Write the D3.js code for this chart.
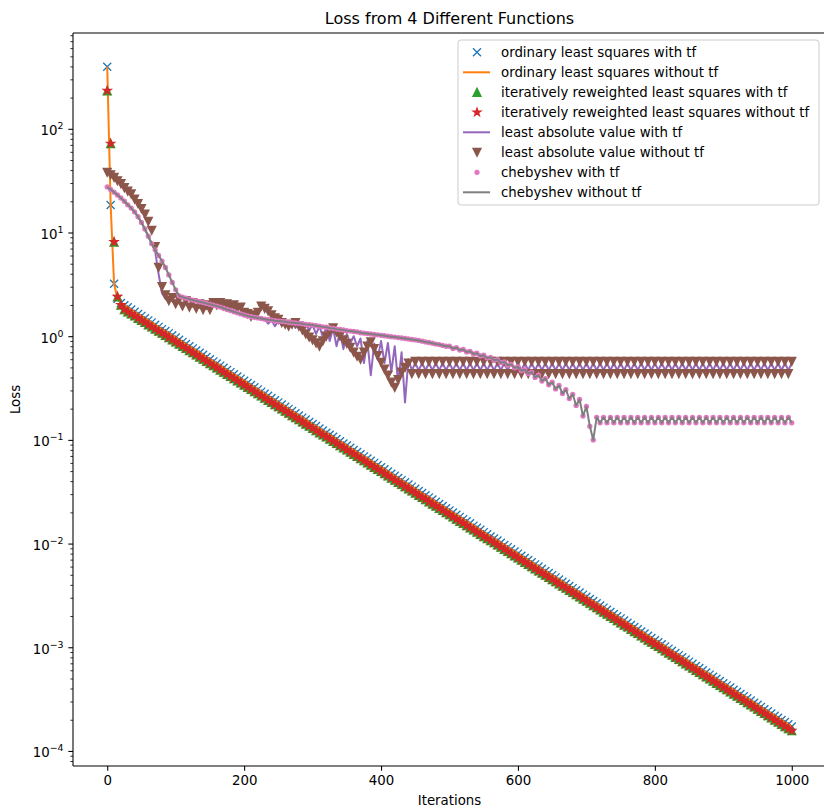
<!DOCTYPE html>
<html><head><meta charset="utf-8">
<script src="https://cdn.jsdelivr.net/npm/d3@7"></script>
<style>
body{margin:0;background:#fff}
svg{display:block}
text{font-family:"DejaVu Sans",sans-serif;fill:#000}
</style>
</head><body>
<svg id="chart" width="824" height="808"></svg>
<script>
// ---------------- DATA (loss logged every 5 iterations) ----------------
const iterations = d3.range(0, 1001, 5);

const olsWithTf = [397, 18.4, 3.2, 2.3,
 2.09,1.99,1.90,1.81,1.72,1.64,1.57,1.49,1.42,1.36,1.29,1.23,1.17,1.12,1.07,1.02,0.970,0.924,0.881,0.840,0.800,0.763,0.727,0.693,0.661,0.630,0.600,0.572,0.545,0.520,0.496,0.472,0.450,0.429,0.409,0.390,0.372,0.354,0.338,0.322,0.307,0.292,0.279,0.266,0.253,0.241,0.230,0.219,
 0.209,0.199,0.190,0.181,0.172,0.164,0.157,0.149,0.142,0.136,0.129,0.123,0.117,0.112,0.107,0.102,0.0970,0.0924,0.0881,0.0840,0.0800,0.0763,0.0727,0.0693,0.0661,0.0630,0.0600,0.0572,0.0545,0.0520,0.0496,0.0472,0.0450,0.0429,0.0409,0.0390,0.0372,0.0354,0.0338,0.0322,0.0307,0.0292,0.0279,0.0266,0.0253,0.0241,0.0230,0.0219,
 0.0209,0.0199,0.0190,0.0181,0.0172,0.0164,0.0157,0.0149,0.0142,0.0136,0.0129,0.0123,0.0117,0.0112,0.0107,0.0102,0.00970,0.00924,0.00881,0.00840,0.00800,0.00763,0.00727,0.00693,0.00661,0.00630,0.00600,0.00572,0.00545,0.00520,0.00496,0.00472,0.00450,0.00429,0.00409,0.00390,0.00372,0.00354,0.00338,0.00322,0.00307,0.00292,0.00279,0.00266,0.00253,0.00241,0.00230,0.00219,
 2.09e-3,1.99e-3,1.90e-3,1.81e-3,1.72e-3,1.64e-3,1.57e-3,1.49e-3,1.42e-3,1.36e-3,1.29e-3,1.23e-3,1.17e-3,1.12e-3,1.07e-3,1.02e-3,9.70e-4,9.24e-4,8.81e-4,8.40e-4,8.00e-4,7.63e-4,7.27e-4,6.93e-4,6.61e-4,6.30e-4,6.00e-4,5.72e-4,5.45e-4,5.20e-4,4.96e-4,4.72e-4,4.50e-4,4.29e-4,4.09e-4,3.90e-4,3.72e-4,3.54e-4,3.38e-4,3.22e-4,3.07e-4,2.92e-4,2.79e-4,2.66e-4,2.53e-4,2.41e-4,2.30e-4,2.19e-4,
 2.09e-4,1.99e-4,1.90e-4,1.81e-4,1.72e-4];

// the run without tf reproduces the same loss curve
const olsWithoutTf = olsWithTf;

const irlsWithTf = [233, 72, 8.1, 2.4, 2.0,
 1.81,1.72,1.64,1.57,1.49,1.42,1.36,1.29,1.23,1.17,1.12,1.07,1.02,0.970,0.924,0.881,0.840,0.800,0.763,0.727,0.693,0.661,0.630,0.600,0.572,0.545,0.520,0.496,0.472,0.450,0.429,0.409,0.390,0.372,0.354,0.338,0.322,0.307,0.292,0.279,0.266,0.253,0.241,0.230,0.219,
 0.209,0.199,0.190,0.181,0.172,0.164,0.157,0.149,0.142,0.136,0.129,0.123,0.117,0.112,0.107,0.102,0.0970,0.0924,0.0881,0.0840,0.0800,0.0763,0.0727,0.0693,0.0661,0.0630,0.0600,0.0572,0.0545,0.0520,0.0496,0.0472,0.0450,0.0429,0.0409,0.0390,0.0372,0.0354,0.0338,0.0322,0.0307,0.0292,0.0279,0.0266,0.0253,0.0241,0.0230,0.0219,
 0.0209,0.0199,0.0190,0.0181,0.0172,0.0164,0.0157,0.0149,0.0142,0.0136,0.0129,0.0123,0.0117,0.0112,0.0107,0.0102,0.00970,0.00924,0.00881,0.00840,0.00800,0.00763,0.00727,0.00693,0.00661,0.00630,0.00600,0.00572,0.00545,0.00520,0.00496,0.00472,0.00450,0.00429,0.00409,0.00390,0.00372,0.00354,0.00338,0.00322,0.00307,0.00292,0.00279,0.00266,0.00253,0.00241,0.00230,0.00219,
 2.09e-3,1.99e-3,1.90e-3,1.81e-3,1.72e-3,1.64e-3,1.57e-3,1.49e-3,1.42e-3,1.36e-3,1.29e-3,1.23e-3,1.17e-3,1.12e-3,1.07e-3,1.02e-3,9.70e-4,9.24e-4,8.81e-4,8.40e-4,8.00e-4,7.63e-4,7.27e-4,6.93e-4,6.61e-4,6.30e-4,6.00e-4,5.72e-4,5.45e-4,5.20e-4,4.96e-4,4.72e-4,4.50e-4,4.29e-4,4.09e-4,3.90e-4,3.72e-4,3.54e-4,3.38e-4,3.22e-4,3.07e-4,2.92e-4,2.79e-4,2.66e-4,2.53e-4,2.41e-4,2.30e-4,2.19e-4,
 2.09e-4,1.99e-4,1.90e-4,1.81e-4,1.72e-4,1.64e-4,1.57e-4];

const irlsWithoutTf = irlsWithTf;

const lavWithTf = [27.5,26,24.5,23,21.5,20,18.5,17.2,15.8,14.2,12.5,10.8,9.2,7.8,
 6.6,4.0,2.6,2.3,2.15,2.25,2.1,2.4,2.38,
 2.33,2.28,2.23,2.19,2.15,2.11,2.07,2.03,1.99,1.95,1.91,1.86,1.81,1.77,1.72,1.68,1.64,1.60,1.57,1.54,1.52,1.50,1.48,
 1.46,1.32,1.43,1.25,1.40,1.28,1.38,1.22,1.35,1.2,1.33,1.25,1.30,1.15,1.28,1.05,1.25,0.98,1.22,0.9,1.19,0.8,1.1,0.75,1.05,0.85,1.0,0.8,0.95,0.55,0.9,0.42,0.85,0.6,0.9,0.55,0.86,0.45,0.8,0.35,0.7,0.23,0.6,
 0.47,0.55,0.47,0.55,0.47,0.55,0.47,0.55,0.47,0.55,0.47,0.55,0.47,0.55,0.47,0.55,
 0.47,0.55,0.47,0.55,0.47,0.55,0.47,0.55,0.47,0.55,0.47,0.55,0.47,0.55,0.47,0.55,
 0.47,0.55,0.47,0.55,0.47,0.55,0.47,0.55,0.47,0.55,0.47,0.55,0.47,0.55,0.47,0.55,
 0.47,0.55,0.47,0.55,0.47,0.55,0.47,0.55,0.47,0.55,0.47,0.55,0.47,0.55,0.47,0.55,
 0.47,0.55,0.47,0.55,0.47,0.55,0.47,0.55,0.47,0.55,0.47,0.55,0.47,0.55,0.47,0.55,
 0.47,0.55,0.47,0.55,0.47,0.55,0.47,0.55,0.47,0.55,0.47,0.55,0.47,0.55,0.47,0.55,
 0.47,0.55,0.47,0.55,0.47,0.55,0.47,0.55,0.47,0.55,0.47,0.55,0.47,0.55,0.47,0.55];

const lavWithoutTf = [38,36,34,31.5,29.5,27,25,23.5,21,19,17,15,12.8,10.5,
 7.3,4.6,3.0,2.5,2.2,2.35,2.05,2.25,1.95,2.2,1.9,2.1,1.85,2.05,1.8,2.0,1.8,2.1,2.0,2.1,1.95,2.05,1.9,2.0,1.85,1.9,
 1.7,1.65,1.55,1.6,1.7,1.95,1.85,1.75,1.6,1.5,1.45,1.35,1.3,1.25,1.3,1.35,1.25,1.15,1.05,0.98,0.92,0.86,0.8,0.9,
 1.0,1.1,1.2,1.1,1.0,0.92,0.85,0.78,0.7,0.64,0.6,0.7,0.8,0.88,0.76,0.65,0.56,0.48,0.42,0.36,0.32,0.38,0.45,0.5,0.55,
 0.435,0.57,0.435,0.57,0.435,0.57,0.435,0.57,0.435,0.57,0.435,0.57,0.435,0.57,0.435,0.57,
 0.435,0.57,0.435,0.57,0.435,0.57,0.435,0.57,0.435,0.57,0.435,0.57,0.435,0.57,0.435,0.57,
 0.435,0.57,0.435,0.57,0.435,0.57,0.435,0.57,0.435,0.57,0.435,0.57,0.435,0.57,0.435,0.57,
 0.435,0.57,0.435,0.57,0.435,0.57,0.435,0.57,0.435,0.57,0.435,0.57,0.435,0.57,0.435,0.57,
 0.435,0.57,0.435,0.57,0.435,0.57,0.435,0.57,0.435,0.57,0.435,0.57,0.435,0.57,0.435,0.57,
 0.435,0.57,0.435,0.57,0.435,0.57,0.435,0.57,0.435,0.57,0.435,0.57,0.435,0.57,0.435,0.57,
 0.435,0.57,0.435,0.57,0.435,0.57,0.435,0.57,0.435,0.57,0.435,0.57,0.435,0.57,0.435,0.57];

const chebyshevWithTf = [27.5,26,24.5,23,21.5,20,18.5,17.2,15.8,14.2,12.5,10.8,9.2,7.8,6.8,6.0,5.3,4.6,3.9,3.3,2.8,2.45,2.38,
 2.33,2.28,2.23,2.19,2.15,2.11,2.07,2.03,1.99,1.95,1.91,1.86,1.81,1.77,1.72,1.68,1.64,1.60,1.57,1.54,1.52,1.50,1.48,
 1.46,1.44,1.43,1.41,1.40,1.39,1.38,1.36,1.35,1.34,1.33,1.32,1.30,1.29,1.28,1.26,1.25,1.23,1.22,1.20,1.19,1.17,1.16,1.15,
 1.13,1.12,1.11,1.10,1.08,1.07,1.06,1.05,1.04,1.03,1.02,1.01,1.00,0.99,0.98,0.97,0.96,0.95,0.94,0.93,0.92,0.91,0.895,0.88,
 0.87,0.855,0.84,0.83,0.815,0.80,
 0.80,0.76,0.775,0.735,0.745,0.705,0.715,0.675,0.685,0.645,0.655,0.615,0.625,0.585,0.595,0.555,0.565,0.525,0.535,0.495,0.505,
 0.465,0.475,0.435,0.45,0.40,0.42,0.37,0.39,0.34,0.36,0.31,0.335,0.28,0.305,0.25,0.275,0.215,0.245,0.17,0.21,0.135,0.10,
 0.165,0.146,0.165,0.146,0.165,0.146,0.165,0.146,0.165,0.146,0.165,0.146,0.165,0.146,0.165,0.146,
 0.165,0.146,0.165,0.146,0.165,0.146,0.165,0.146,0.165,0.146,0.165,0.146,0.165,0.146,0.165,0.146,
 0.165,0.146,0.165,0.146,0.165,0.146,0.165,0.146,0.165,0.146,0.165,0.146,0.165,0.146,0.165,0.146,
 0.165,0.146,0.165,0.146,0.165,0.146,0.165,0.146,0.165,0.146];

const chebyshevWithoutTf = chebyshevWithTf;

const seriesLabels = [
  "ordinary least squares with tf",
  "ordinary least squares without tf",
  "iteratively reweighted least squares with tf",
  "iteratively reweighted least squares without tf",
  "least absolute value with tf",
  "least absolute value without tf",
  "chebyshev with tf",
  "chebyshev without tf"
];
const xTickValues = [0, 200, 400, 600, 800, 1000];
const yMajorTicks = [1e-4, 1e-3, 1e-2, 1e-1, 1, 10, 100];

// ---------------- STYLE ----------------
const seriesValues = [olsWithTf, olsWithoutTf, irlsWithTf, irlsWithoutTf, lavWithTf, lavWithoutTf, chebyshevWithTf, chebyshevWithoutTf];
seriesValues.forEach((s, k) => { if (s.length !== iterations.length) throw new Error("series " + k + " length " + s.length); });

const colors = ["#1f77b4", "#ff7f0e", "#2ca02c", "#d62728", "#9467bd", "#8c564b", "#e377c2", "#7f7f7f"];
const kinds = ["x", "line", "tri-up", "star", "line", "tri-down", "point", "line"];
const MS = 4; // half marker size in px
function starPath(R) {
  const r = R * 0.381966, p = [];
  for (let k = 0; k < 10; k++) {
    const a = -Math.PI / 2 + k * Math.PI / 5, rr = k % 2 ? r : R;
    p.push((rr * Math.cos(a)).toFixed(3) + "," + (rr * Math.sin(a)).toFixed(3));
  }
  return "M" + p.join("L") + "Z";
}
const markerPaths = {
  "x": `M${-MS},${-MS}L${MS},${MS}M${-MS},${MS}L${MS},${-MS}`,
  "tri-up": `M0,${-MS}L${-MS},${MS}L${MS},${MS}Z`,
  "tri-down": `M0,${MS}L${-MS},${-MS}L${MS},${-MS}Z`,
  "star": starPath(MS),
  "point": d3.symbol(d3.symbolCircle, Math.PI * 2 * 2)()
};

const L = 73, R = 826, T = 33, B = 766;
const svg = d3.select("#chart");
const x = d3.scaleLinear().domain([-50, 1050]).range([L, R]);
const y = d3.scaleLog().domain([7.16e-5, 839.5]).range([B, T]);

// ---------------- SERIES ----------------
const plot = svg.append("g");
seriesValues.forEach((vals, k) => {
  const kind = kinds[k], c = colors[k];
  if (kind === "line") {
    const line = d3.line().x((d, i) => x(iterations[i])).y(d => y(d));
    plot.append("path").attr("d", line(vals)).attr("fill", "none")
      .attr("stroke", c).attr("stroke-width", 2).attr("stroke-linejoin", "round");
  } else {
    const g = plot.append("g");
    g.selectAll("path").data(vals).join("path")
      .attr("transform", (d, i) => `translate(${x(iterations[i])},${y(d)})`)
      .attr("d", markerPaths[kind])
      .attr("fill", kind === "x" ? "none" : c)
      .attr("stroke", c).attr("stroke-width", 1.33);
  }
});

// ---------------- AXES ----------------
const ax = svg.append("g");
ax.append("g").attr("transform", `translate(0,${B})`)
  .call(d3.axisBottom(x).tickValues(xTickValues).tickSize(4.67).tickPadding(4.67).tickFormat(d3.format("d")))
  .call(g => g.select(".domain").remove())
  .call(g => g.selectAll("line").attr("stroke", "#000").attr("stroke-width", 1.07))
  .call(g => g.selectAll("text").attr("font-size", 13.33).attr("font-family", "DejaVu Sans").attr("fill", "#000"));

const yMinor = y.ticks().filter(v => Math.abs(Math.log10(v) - Math.round(Math.log10(v))) > 1e-6);
ax.append("g").attr("transform", `translate(${L},0)`)
  .call(d3.axisLeft(y).tickValues(yMinor).tickSize(2.67).tickFormat(""))
  .call(g => g.select(".domain").remove())
  .call(g => g.selectAll("line").attr("stroke", "#000").attr("stroke-width", 0.8));
ax.append("g").attr("transform", `translate(${L},0)`)
  .call(d3.axisLeft(y).tickValues(yMajorTicks).tickSize(4.67).tickFormat(""))
  .call(g => g.select(".domain").remove())
  .call(g => g.selectAll("line").attr("stroke", "#000").attr("stroke-width", 1.07));

yMajorTicks.forEach(v => {
  const e = Math.round(Math.log10(v));
  const t = ax.append("text").attr("x", L - 9.5).attr("y", y(v) + 6.5)
    .attr("text-anchor", "end").attr("font-size", 13.33);
  t.append("tspan").text("10");
  t.append("tspan").attr("dy", -6).attr("font-size", 9.4).text(e < 0 ? "\u2212" + (-e) : String(e));
});

// spines
const sp = svg.append("g").attr("stroke", "#000").attr("stroke-width", 1.07).attr("fill", "none");
sp.append("line").attr("x1", L).attr("x2", L).attr("y1", T).attr("y2", B);
sp.append("line").attr("x1", L).attr("x2", R).attr("y1", B).attr("y2", B);
sp.append("line").attr("x1", L).attr("x2", R).attr("y1", T).attr("y2", T);
sp.append("line").attr("x1", R).attr("x2", R).attr("y1", T).attr("y2", B);

// labels
svg.append("text").attr("x", (L + R) / 2).attr("y", 23.5).attr("text-anchor", "middle")
  .attr("font-size", 16).text("Loss from 4 Different Functions");
svg.append("text").attr("x", (L + R) / 2).attr("y", 805).attr("text-anchor", "middle")
  .attr("font-size", 13.33).text("Iterations");
svg.append("text").attr("transform", `translate(20,${(T + B) / 2}) rotate(-90)`).attr("text-anchor", "middle")
  .attr("font-size", 13.33).text("Loss");

// ---------------- LEGEND ----------------
const lg = svg.append("g");
lg.append("rect").attr("x", 458).attr("y", 40).attr("width", 361).attr("height", 165).attr("rx", 3)
  .attr("fill", "#fff").attr("fill-opacity", 0.8).attr("stroke", "#cccccc").attr("stroke-width", 1);
seriesLabels.forEach((lab, k) => {
  const cy = 52.3 + k * 20;
  const kind = kinds[k], c = colors[k];
  if (kind === "line") {
    lg.append("line").attr("x1", 463).attr("x2", 490).attr("y1", cy).attr("y2", cy)
      .attr("stroke", c).attr("stroke-width", 2);
  } else {
    lg.append("path").attr("transform", `translate(477,${cy})`).attr("d", markerPaths[kind])
      .attr("fill", kind === "x" ? "none" : c).attr("stroke", c).attr("stroke-width", 1.33);
  }
  lg.append("text").attr("x", 501).attr("y", cy + 4.8).attr("font-size", 13.33).text(lab);
});
</script>
</body></html>
